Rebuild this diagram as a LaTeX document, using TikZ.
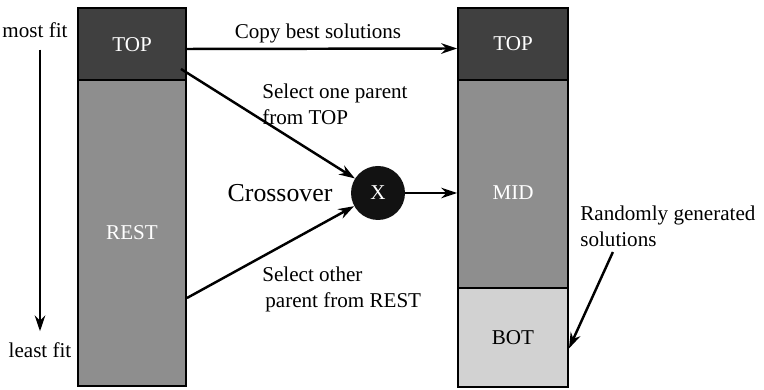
\documentclass[tikz,border=0pt]{standalone}
\usepackage{fontspec}
\setmainfont{Liberation Serif}
\usetikzlibrary{positioning,arrows.meta}
\definecolor{topgray}{HTML}{404040}
\definecolor{midgray}{HTML}{8E8E8E}
\definecolor{botgray}{HTML}{D2D2D2}
\tikzset{
    block/.style={draw,line width=1.1pt,rectangle,inner sep=0pt},
    arr/.style={line width=1.4pt,-{Stealth[length=9pt,width=6pt]}},
    note/.style={align=left,inner sep=0pt}
}
\begin{document}
\begin{tikzpicture}[font=\fontsize{12}{14.5}\selectfont]
        \useasboundingbox (0,0) rectangle (15.28,7.8);
        % population before
        \node[block,fill=topgray,text=white,minimum width=2.16cm,minimum height=1.46cm] (top1) at (2.64,6.91) {TOP};
        \node[block,fill=midgray,text=white,minimum width=2.16cm,minimum height=6.12cm] (rest) at (2.64,3.14) {REST};
        % population after
        \node[block,fill=topgray,text=white,minimum width=2.2cm,minimum height=1.44cm] (top2) at (10.26,6.92) {TOP};
        \node[block,fill=midgray,text=white,minimum width=2.2cm,minimum height=4.16cm] (mid) at (10.26,4.12) {};
        \node[text=white] (midtext) at (10.26,3.94) {MID};
        \node[block,fill=botgray,minimum width=2.2cm,minimum height=1.98cm] (bot) at (10.26,1.05) {BOT};
        % crossover
        \node[circle,fill=black!93,text=white,minimum size=1.08cm,inner sep=0pt] (x) at (7.56,3.94) {X};
        \node[left=0.24cm of x,font=\fontsize{14.7}{17}\selectfont] (cross) {Crossover};
        % labels
        \node (copy) at (6.36,7.14) {Copy best solutions};
        \node[note,anchor=north west] (sel1) at (5.24,6.12) {Select one parent\\from TOP};
        \node[note,anchor=north west] (sel2) at (5.24,2.46) {Select other\\\hspace{0.06cm}parent from REST};
        \node[note,anchor=north west] (rand) at (11.6,3.68) {Randomly generated\\solutions};
        \node (most) at (0.7,7.2) {most fit};
        \node (least) at (0.8,0.8) {least fit};
        % arrows
        \draw[arr] ([yshift=-0.09cm]top1.east) -- ([yshift=-0.09cm]top2.west);
        \draw[arr] ([shift={(-0.12,0.26)}]top1.south east) -- (x);
        \draw[arr] ([yshift=-1.3cm]rest.east) -- (x);
        \draw[arr] (x) -- (x -| mid.west);
        \draw[arr] ([shift={(-1.1,-0.1)}]rand.south) -- ([yshift=-0.22cm]bot.east);
        \draw[arr] ([yshift=-0.12cm]most.south -| least) -- ([yshift=0.1cm]least.north);
    \end{tikzpicture}
\end{document}
